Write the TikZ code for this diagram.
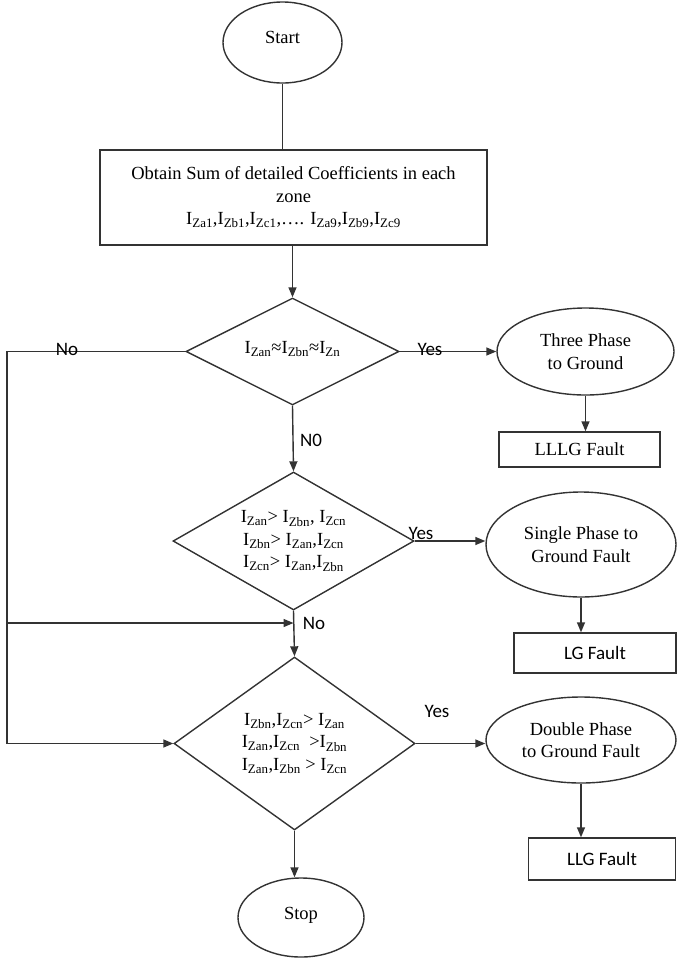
\documentclass[tikz,border=0pt]{standalone}
\usepackage{fontspec}
\setmainfont{Liberation Serif}
\newfontfamily\calibri{Carlito}
\usetikzlibrary{shapes.geometric,arrows.meta}

\newcommand{\Iz}[1]{I\textsubscript{Z#1}}

\tikzset{
  term/.style={ellipse,draw,inner sep=0pt,align=center},
  procbox/.style={rectangle,draw,inner sep=2pt,align=center},
  decide/.style={diamond,draw,inner sep=0pt,aspect=1.8,align=center},
  arr/.style={-{Triangle[length=10pt,width=8pt]}},
  lbl/.style={font=\calibri\fontsize{19}{22}\selectfont}
}

\begin{document}
\begin{tikzpicture}[x=1pt,y=-1pt,line width=1.4pt,draw=black!80,
    font=\fontsize{18.5}{22.5}\selectfont]
        \useasboundingbox (0,0) rectangle (677,959);

        % main column
        \node[term,minimum width=119pt,minimum height=81pt] (start) at (282.5,42.5) {\raisebox{10pt}{Start}};
        \node[procbox,minimum width=387pt,minimum height=95pt] (sum) at (293.5,197.5)
            {Obtain Sum of detailed Coefficients in each\\ zone\\
             \Iz{a1},\Iz{b1},\Iz{c1},…. \Iz{a9},\Iz{b9},\Iz{c9}};
        \node[decide,minimum width=213pt,minimum height=107pt] (d1) at (292.5,351.5)
            {\raisebox{8pt}{\Iz{an}≈\Iz{bn}≈\Iz{n}}};
        \node[decide,minimum width=241pt,minimum height=138pt] (d2) at (293.5,541)
            {\Iz{an}> \Iz{bn}, \Iz{cn}\\ \Iz{bn}> \Iz{an},\Iz{cn}\\ \Iz{cn}> \Iz{an},\Iz{bn}};
        \node[decide,minimum width=241pt,minimum height=173pt] (d3) at (294.5,743.5)
            {\Iz{bn},\Iz{cn}> \Iz{an}\\ \Iz{an},\Iz{cn}\ \ >\Iz{bn}\\ \Iz{an},\Iz{bn} > \Iz{cn}};
        \node[term,minimum width=126pt,minimum height=79pt] (stop) at (301,917.5) {\raisebox{8pt}{Stop}};

        % fault column
        \node[term,minimum width=177pt,minimum height=87pt] (three) at (585.5,351.5) {Three Phase\\ to Ground};
        \node[procbox,minimum width=161pt,minimum height=35pt] (lllg) at (579.5,449.5) {LLLG Fault};
        \node[term,minimum width=190pt,minimum height=105pt] (single) at (581,544.5) {Single Phase to\\ Ground Fault};
        \node[procbox,lbl,minimum width=162pt,minimum height=40pt] (lg) at (595,653) {LG Fault};
        \node[term,minimum width=190pt,minimum height=86pt] (double) at (581,740) {Double Phase\\ to Ground Fault};
        \node[procbox,lbl,minimum width=147pt,minimum height=42pt] (llg) at (602,859) {LLG Fault};

        \coordinate (ltop) at (7,351.5);
        \coordinate (lmid) at (7,623);
        \coordinate (lbot) at (7,743.5);
        \coordinate (join) at (293.5,623);

        \draw (start.south) -- (start.south |- sum.north);
        \draw[arr] (sum.south -| d1.north) -- (d1.north);
        \draw[arr] (d1.south) -- (d2.north);
        \draw[arr] (d2.south) -- (d3.north);
        \draw[arr] (d3.south) -- (d3.south |- stop.north);

        \draw[arr] (d1.east) -- (three.west);
        \draw[arr] (d2.east) -- (d2.east -| single.west);
        \draw[arr] (d3.east) -- (d3.east -| double.west);
        \draw[arr] (three.south) -- (three.south |- lllg.north);
        \draw[arr] (single.south) -- (single.south |- lg.north);
        \draw[arr] (double.south) -- (double.south |- llg.north);

        \draw (d1.west) -- (ltop) -- (lbot);
        \draw[arr] (lbot) -- (d3.west);
        \draw[arr] (lmid) -- (join);

        \node[lbl] (no1) at (67,349) {No};
        \node[lbl] (yes1) at (430,349) {Yes};
        \node[lbl] (no2) at (311,440) {N0};
        \node[lbl] (yes2) at (421,533) {Yes};
        \node[lbl] (no3) at (314,623) {No};
        \node[lbl] (yes3) at (437,711) {Yes};
    \end{tikzpicture}
\end{document}
